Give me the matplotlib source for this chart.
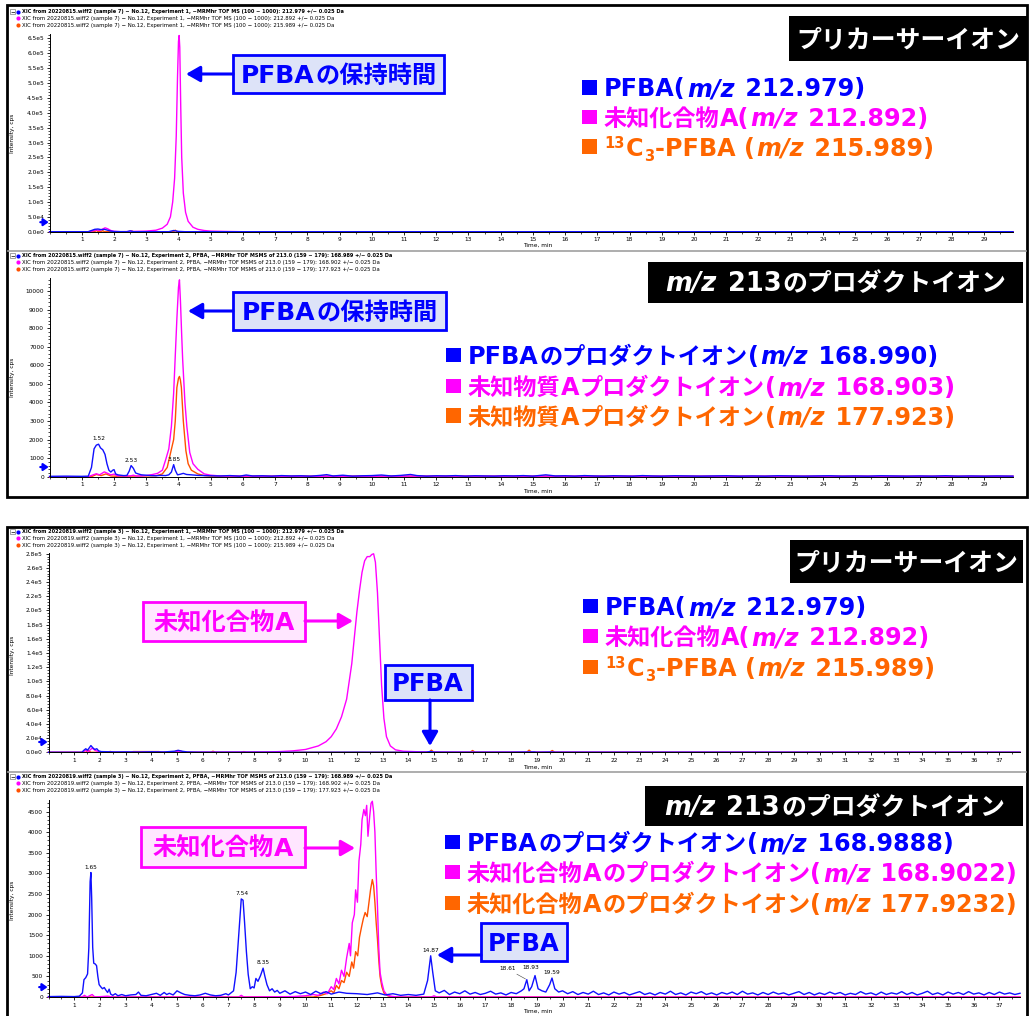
import matplotlib
matplotlib.use('Agg')
import matplotlib.pyplot as plt
from matplotlib.patches import Rectangle, FancyArrowPatch
from matplotlib.lines import Line2D
from matplotlib.ticker import FixedLocator, AutoMinorLocator, FuncFormatter
from matplotlib.transforms import blended_transform_factory
import numpy as np

FAM = ['DejaVu Sans', 'Noto Sans CJK JP']
plt.rcParams['font.family'] = FAM

W, H = 1030, 1016
fig = plt.figure(figsize=(W / 100, H / 100), dpi=100)
fig.patch.set_facecolor('white')
renderer = fig.canvas.get_renderer()

BLUE = '#0000FF'
MAGENTA = '#FF00FF'
ORANGE = '#FF6600'
TR_BLUE = '#1010FF'
TR_MAG = '#FF00FF'
TR_ORA = '#FF5000'

# ---------------- data: (time [min], intensity [cps]) ----------------
# sample 20220815, precursor ions
p1_blue = [(0, 0), (1.2, 0), (1.3, 4000), (1.4, 8000), (1.5, 9000), (1.6, 7000), (1.7, 8000),
           (1.8, 5000), (1.9, 2000), (2.0, 500), (2.4, 0), (2.5, 3000), (2.6, 0), (3.7, 0),
           (3.85, 4000), (4.0, 1000), (4.2, 0), (29.9, 0)]
p1_mag = [(0, 0), (1.2, 0), (1.35, 3000), (1.45, 6000), (1.55, 4000), (1.65, 9000), (1.72, 13000),
          (1.8, 10000), (1.9, 4000), (2.0, 1500), (2.2, 0), (3.0, 2000), (3.3, 5000), (3.5, 12000),
          (3.65, 25000), (3.75, 50000), (3.82, 100000), (3.88, 180000), (3.93, 320000),
          (3.97, 520000), (4.0, 640000), (4.02, 660000), (4.04, 620000), (4.07, 420000),
          (4.1, 250000), (4.15, 130000), (4.22, 65000), (4.3, 35000), (4.45, 15000), (4.6, 8000),
          (4.8, 4000), (5.0, 2000), (5.5, 800), (6.0, 0), (29.9, 0)]
p1_ora = [(0, 0), (1.4, 0), (1.45, 4500), (1.5, 0), (1.6, 0), (1.65, 3500), (1.7, 0), (2.5, 0),
          (2.55, 2500), (2.6, 0), (3.85, 0), (3.9, 5000), (3.95, 0), (29.9, 0)]

# sample 20220815, product ions of m/z 213
p2_blue = [(0, 20), (0.5, 30), (1.0, 20), (1.2, 30), (1.3, 500), (1.38, 1500), (1.45, 1700),
           (1.52, 1750), (1.58, 1550), (1.65, 1450), (1.72, 1200), (1.78, 700), (1.84, 350),
           (1.9, 250), (1.96, 350), (2.0, 380), (2.05, 150), (2.12, 100), (2.2, 80), (2.3, 60),
           (2.4, 70), (2.47, 300), (2.53, 600), (2.6, 450), (2.67, 200), (2.75, 150), (2.85, 100),
           (3.0, 80), (3.15, 60), (3.3, 50), (3.45, 70), (3.6, 60), (3.7, 100), (3.78, 250),
           (3.85, 650), (3.9, 350), (3.97, 100), (4.05, 130), (4.15, 180), (4.25, 120), (4.4, 100),
           (4.6, 70), (4.8, 60), (5.0, 50), (5.3, 40), (5.6, 60), (5.9, 30), (6.1, 90), (6.3, 40),
           (6.6, 50), (6.9, 30), (7.2, 60), (7.5, 40), (7.8, 50), (8.1, 30), (8.4, 70), (8.6, 110),
           (8.8, 40), (9.1, 80), (9.4, 30), (9.7, 50), (10.0, 60), (10.3, 90), (10.6, 40),
           (10.9, 70), (11.2, 120), (11.4, 60), (11.7, 30), (12.0, 50), (12.3, 40), (12.6, 60),
           (12.9, 30), (13.2, 50), (13.5, 40), (13.8, 30), (14.1, 50), (14.4, 40), (14.7, 60),
           (15.0, 30), (15.4, 100), (15.7, 40), (16.0, 50), (16.3, 30), (16.6, 60), (16.9, 40),
           (17.2, 30), (17.5, 50), (17.8, 40), (18.1, 30), (18.4, 60), (18.7, 40), (19.0, 30),
           (19.4, 50), (19.8, 40), (20.2, 30), (20.6, 40), (21.0, 50), (21.4, 30), (21.8, 40),
           (22.2, 30), (22.6, 50), (23.0, 40), (23.4, 30), (23.8, 40), (24.2, 50), (24.6, 30),
           (25.0, 40), (25.4, 30), (25.8, 50), (26.2, 40), (26.6, 30), (27.0, 40), (27.4, 30),
           (27.8, 50), (28.2, 30), (28.6, 40), (29.0, 30), (29.4, 40), (29.9, 30)]
p2_mag = [(0, 0), (1.2, 0), (1.35, 100), (1.45, 160), (1.55, 100), (1.7, 260), (1.8, 180),
          (1.9, 100), (2.0, 140), (2.1, 50), (2.5, 40), (2.6, 80), (2.7, 30), (3.0, 60), (3.2, 120),
          (3.35, 180), (3.5, 350), (3.6, 900), (3.7, 1500), (3.78, 2700), (3.85, 4500),
          (3.9, 6500), (3.95, 8500), (4.0, 10200), (4.03, 10600), (4.06, 9500), (4.1, 7600),
          (4.13, 6300), (4.2, 4000), (4.26, 2700), (4.35, 1300), (4.45, 700), (4.6, 400),
          (4.8, 150), (5.0, 80), (5.3, 40), (6.0, 30), (8.0, 20), (12.0, 30), (29.9, 20)]
p2_ora = [(0, 0), (1.3, 0), (1.45, 120), (1.6, 60), (1.75, 150), (1.9, 40), (2.1, 20), (3.3, 50),
          (3.5, 150), (3.65, 500), (3.77, 1400), (3.85, 2000), (3.9, 3000), (3.95, 4800),
          (4.0, 5300), (4.03, 5400), (4.06, 5200), (4.09, 4800), (4.15, 3000), (4.23, 1400),
          (4.3, 700), (4.4, 350), (4.6, 150), (4.8, 60), (5.0, 30), (29.9, 20)]
p2_peaks = [(1.52, 1750), (2.53, 600), (3.85, 650)]

# sample 20220819, precursor ions
p3_blue = [(0, 0), (1.3, 0), (1.38, 3000), (1.45, 5000), (1.52, 3000), (1.6, 7000), (1.65, 9500),
           (1.72, 6500), (1.8, 4000), (1.88, 5000), (1.95, 2000), (2.05, 1000), (2.3, 800),
           (2.6, 500), (3.0, 600), (3.5, 400), (4.0, 700), (4.5, 500), (4.9, 1500), (5.05, 2800),
           (5.2, 1500), (5.4, 500), (5.8, 200), (6.5, 100), (7.5, 100), (9.0, 50), (10.0, 100),
           (12.0, 200), (13.5, 100), (14.7, 200), (14.87, 1200), (15.0, 200), (16.0, 100),
           (18.0, 150), (18.9, 500), (19.0, 100), (19.6, 400), (19.7, 100), (25.0, 100),
           (37.8, 50)]
p3_mag = [(0, 0), (1.35, 0), (1.45, 3000), (1.55, 1000), (1.7, 6000), (1.8, 3000), (1.9, 1500),
          (2.0, 0), (4.9, 0), (5.05, 1500), (5.2, 0), (8.5, 500), (9.0, 1000), (9.5, 2000),
          (10.0, 4000), (10.5, 9000), (10.8, 15000), (11.0, 22000), (11.2, 33000), (11.4, 50000),
          (11.6, 75000), (11.8, 125000), (11.9, 162000), (12.0, 198000), (12.1, 228000),
          (12.2, 254000), (12.3, 270000), (12.4, 276000), (12.5, 276000), (12.58, 279000),
          (12.65, 280000), (12.72, 268000), (12.8, 225000), (12.88, 160000), (12.96, 95000),
          (13.05, 48000), (13.15, 22000), (13.3, 9000), (13.5, 3500), (13.8, 1500), (14.5, 600),
          (15.5, 200), (37.8, 0)]
p3_ora = [(0, 0), (1.45, 0), (1.55, 2500), (1.65, 0), (2.3, 0), (2.4, 1200), (2.5, 0), (3.2, 0),
          (3.3, 1000), (4.3, 1000), (4.4, 0), (4.9, 0), (5.0, 2500), (5.15, 1500), (5.3, 0),
          (6.3, 0), (6.4, 1500), (6.5, 0), (7.5, 0), (7.6, 1000), (7.7, 0), (14.8, 0),
          (14.9, 3000), (15.0, 0), (16.4, 0), (16.5, 2500), (16.6, 0), (18.6, 0), (18.7, 3000),
          (18.8, 0), (19.5, 0), (19.6, 2500), (19.7, 0), (37.8, 0)]

# sample 20220819, product ions of m/z 213
p4_blue = [(0, 10), (0.5, 15), (1.0, 10), (1.2, 20), (1.32, 100), (1.38, 420), (1.45, 470),
           (1.52, 560), (1.57, 1200), (1.62, 2800), (1.65, 3020), (1.68, 2400), (1.72, 1200),
           (1.76, 820), (1.82, 800), (1.87, 760), (1.92, 500), (1.97, 300), (2.03, 250),
           (2.1, 200), (2.17, 230), (2.24, 160), (2.3, 110), (2.36, 190), (2.42, 70), (2.5, 40),
           (2.6, 80), (2.7, 30), (2.85, 60), (3.0, 30), (3.2, 50), (3.4, 60), (3.5, 120), (3.6, 40),
           (3.8, 30), (4.0, 60), (4.2, 90), (4.35, 40), (4.5, 110), (4.6, 60), (4.7, 90),
           (4.85, 50), (5.0, 150), (5.15, 100), (5.3, 60), (5.5, 40), (5.7, 30), (5.9, 50),
           (6.1, 90), (6.3, 50), (6.5, 30), (6.7, 40), (6.9, 80), (7.0, 50), (7.1, 100), (7.2, 150),
           (7.3, 600), (7.4, 1500), (7.5, 2380), (7.57, 2350), (7.63, 1800), (7.7, 1100),
           (7.77, 550), (7.85, 200), (7.93, 250), (8.0, 220), (8.07, 450), (8.15, 380),
           (8.25, 520), (8.35, 700), (8.42, 500), (8.5, 300), (8.6, 150), (8.7, 200), (8.8, 120),
           (8.9, 160), (9.0, 90), (9.2, 150), (9.4, 70), (9.6, 130), (9.8, 80), (10.0, 120),
           (10.2, 60), (10.4, 140), (10.6, 80), (10.8, 130), (11.0, 70), (11.3, 120), (11.6, 90),
           (12.0, 80), (12.4, 60), (12.8, 100), (13.1, 50), (13.4, 80), (13.7, 40), (14.0, 60),
           (14.3, 40), (14.6, 70), (14.75, 400), (14.87, 1000), (14.95, 600), (15.05, 150),
           (15.2, 100), (15.4, 160), (15.6, 60), (15.8, 120), (16.0, 80), (16.2, 150), (16.4, 70),
           (16.6, 110), (16.8, 60), (17.0, 90), (17.2, 140), (17.4, 70), (17.6, 100), (17.8, 50),
           (18.0, 110), (18.2, 80), (18.4, 150), (18.5, 200), (18.61, 420), (18.7, 150),
           (18.8, 250), (18.93, 520), (19.05, 200), (19.2, 150), (19.35, 120), (19.5, 300),
           (19.59, 460), (19.7, 200), (19.85, 120), (20.0, 150), (20.2, 80), (20.4, 130),
           (20.6, 60), (20.8, 110), (21.0, 70), (21.2, 140), (21.4, 60), (21.6, 100), (21.8, 50),
           (22.0, 120), (22.2, 70), (22.4, 110), (22.6, 50), (22.8, 90), (23.0, 130), (23.2, 60),
           (23.4, 100), (23.6, 50), (23.8, 110), (24.0, 70), (24.2, 140), (24.4, 60), (24.6, 100),
           (24.8, 50), (25.0, 120), (25.2, 80), (25.4, 130), (25.6, 60), (25.8, 100), (26.0, 50),
           (26.2, 110), (26.4, 70), (26.6, 120), (26.8, 60), (27.0, 140), (27.2, 70), (27.4, 100),
           (27.6, 50), (27.8, 110), (28.0, 60), (28.2, 120), (28.4, 70), (28.6, 100), (28.8, 50),
           (29.0, 90), (29.2, 130), (29.4, 60), (29.6, 110), (29.8, 50), (30.0, 100), (30.2, 60),
           (30.4, 120), (30.6, 70), (30.8, 110), (31.0, 50), (31.2, 90), (31.4, 60), (31.6, 130),
           (31.8, 70), (32.0, 100), (32.2, 50), (32.4, 120), (32.6, 60), (32.8, 100), (33.0, 70),
           (33.2, 130), (33.4, 60), (33.6, 110), (33.8, 50), (34.0, 90), (34.2, 140), (34.4, 60),
           (34.6, 100), (34.8, 50), (35.0, 120), (35.2, 70), (35.4, 110), (35.6, 60), (35.8, 130),
           (36.0, 70), (36.2, 100), (36.4, 50), (36.6, 110), (36.8, 60), (37.0, 120), (37.2, 70),
           (37.4, 100), (37.6, 60), (37.8, 90)]
p4_mag = [(0, 0), (1.3, 0), (1.4, 40), (1.5, 0), (1.7, 60), (1.8, 0), (2.3, 20), (2.5, 0),
          (7.4, 0), (7.5, 40), (7.6, 0), (9.5, 10), (10.0, 30), (10.3, 60), (10.5, 40), (10.7, 120),
          (10.85, 80), (11.0, 250), (11.1, 180), (11.2, 450), (11.3, 320), (11.4, 650), (11.5, 500),
          (11.6, 950), (11.7, 1300), (11.75, 1000), (11.82, 1800), (11.9, 2000), (11.95, 2600),
          (12.02, 2300), (12.08, 3300), (12.15, 3700), (12.2, 4300), (12.27, 4550), (12.33, 4400),
          (12.38, 4650), (12.43, 3900), (12.5, 4400), (12.55, 4700), (12.6, 4750), (12.65, 4500),
          (12.7, 4000), (12.75, 3000), (12.8, 2200), (12.85, 1200), (12.9, 600), (12.97, 350),
          (13.05, 150), (13.15, 60), (13.3, 20), (13.6, 0), (14.9, 0), (15.0, 30), (15.1, 0),
          (37.8, 0)]
p4_ora = [(0, 0), (10.3, 0), (10.6, 40), (10.8, 80), (11.0, 150), (11.1, 100), (11.2, 280),
          (11.3, 200), (11.4, 400), (11.5, 350), (11.6, 600), (11.7, 500), (11.8, 850),
          (11.87, 700), (11.95, 1100), (12.03, 1000), (12.1, 1450), (12.18, 1700), (12.25, 1900),
          (12.32, 2050), (12.4, 1950), (12.47, 2300), (12.53, 2600), (12.6, 2850), (12.65, 2700),
          (12.7, 2300), (12.75, 1800), (12.8, 1400), (12.85, 900), (12.9, 500), (12.97, 250),
          (13.05, 100), (13.2, 30), (13.4, 0), (37.8, 0)]
p4_peaks = [(1.65, 3020), (7.54, 2380), (8.35, 700), (14.87, 1000), (18.61, 420),
            (18.93, 520), (19.59, 460)]

# ---------------- text content ----------------
hdr_p1 = ['XIC from 20220815.wiff2 (sample 7) − No.12, Experiment 1, −MRMhr TOF MS (100 − 1000): 212.979 +/− 0.025 Da',
          'XIC from 20220815.wiff2 (sample 7) − No.12, Experiment 1, −MRMhr TOF MS (100 − 1000): 212.892 +/− 0.025 Da',
          'XIC from 20220815.wiff2 (sample 7) − No.12, Experiment 1, −MRMhr TOF MS (100 − 1000): 215.989 +/− 0.025 Da']
hdr_p2 = ['XIC from 20220815.wiff2 (sample 7) − No.12, Experiment 2, PFBA, −MRMhr TOF MSMS of 213.0 (159 − 179): 168.989 +/− 0.025 Da',
          'XIC from 20220815.wiff2 (sample 7) − No.12, Experiment 2, PFBA, −MRMhr TOF MSMS of 213.0 (159 − 179): 168.902 +/− 0.025 Da',
          'XIC from 20220815.wiff2 (sample 7) − No.12, Experiment 2, PFBA, −MRMhr TOF MSMS of 213.0 (159 − 179): 177.923 +/− 0.025 Da']
hdr_p3 = ['XIC from 20220819.wiff2 (sample 3) − No.12, Experiment 1, −MRMhr TOF MS (100 − 1000): 212.979 +/− 0.025 Da',
          'XIC from 20220819.wiff2 (sample 3) − No.12, Experiment 1, −MRMhr TOF MS (100 − 1000): 212.892 +/− 0.025 Da',
          'XIC from 20220819.wiff2 (sample 3) − No.12, Experiment 1, −MRMhr TOF MS (100 − 1000): 215.989 +/− 0.025 Da']
hdr_p4 = ['XIC from 20220819.wiff2 (sample 3) − No.12, Experiment 2, PFBA, −MRMhr TOF MSMS of 213.0 (159 − 179): 168.989 +/− 0.025 Da',
          'XIC from 20220819.wiff2 (sample 3) − No.12, Experiment 2, PFBA, −MRMhr TOF MSMS of 213.0 (159 − 179): 168.902 +/− 0.025 Da',
          'XIC from 20220819.wiff2 (sample 3) − No.12, Experiment 2, PFBA, −MRMhr TOF MSMS of 213.0 (159 − 179): 177.923 +/− 0.025 Da']

leg_precursor = [
    (BLUE, [('PFBA(', 'b'), ('m/z', 'i'), (' 212.979)', 'b')]),
    (MAGENTA, [('未知化合物A(', 'b'), ('m/z', 'i'), (' 212.892)', 'b')]),
    (ORANGE, [('13', 'sup'), ('C', 'b'), ('3', 'sub'), ('-PFBA (', 'b'), ('m/z', 'i'), (' 215.989)', 'b')]),
]
leg_product_a = [
    (BLUE, [('PFBAのプロダクトイオン(', 'b'), ('m/z', 'i'), (' 168.990)', 'b')]),
    (MAGENTA, [('未知物質Aプロダクトイオン(', 'b'), ('m/z', 'i'), (' 168.903)', 'b')]),
    (ORANGE, [('未知物質Aプロダクトイオン(', 'b'), ('m/z', 'i'), (' 177.923)', 'b')]),
]
leg_product_b = [
    (BLUE, [('PFBAのプロダクトイオン(', 'b'), ('m/z', 'i'), (' 168.9888)', 'b')]),
    (MAGENTA, [('未知化合物Aのプロダクトイオン(', 'b'), ('m/z', 'i'), (' 168.9022)', 'b')]),
    (ORANGE, [('未知化合物Aのプロダクトイオン(', 'b'), ('m/z', 'i'), (' 177.9232)', 'b')]),
]
title_precursor = [('プリカーサーイオン', 'b')]
title_product = [('m/z', 'i'), (' 213のプロダクトイオン', 'b')]

CJK_SCALE = 0.97   # kana/kanji are set a touch smaller than the Latin text


# ---------------- helpers (pixel coordinates, origin at top-left) ----------------
def fx(x):
    return x / W


def fy(y):
    return 1 - y / H


def px_rect(x0, y0, x1, y1, **kw):
    r = Rectangle((fx(x0), fy(y1)), (x1 - x0) / W, (y1 - y0) / H,
                  transform=fig.transFigure, **kw)
    fig.add_artist(r)
    return r


def px_arrow(x0, y0, x1, y1, color):
    a = FancyArrowPatch((fx(x0), fy(y0)), (fx(x1), fy(y1)), transform=fig.transFigure,
                        arrowstyle='-|>,head_length=0.7,head_width=0.4', mutation_scale=12,
                        lw=2.2, color=color, shrinkA=0, shrinkB=0)
    fig.add_artist(a)


def split_runs(txt):
    runs = []
    for ch in txt:
        cjk = ord(ch) >= 0x3000
        if runs and runs[-1][1] == cjk:
            runs[-1][0] += ch
        else:
            runs.append([ch, cjk])
    return runs


def seg_text(x, base, segs, size, color, center=None):
    em = size * 100 / 72
    arts = []
    cur = x
    for txt, st in segs:
        sz, dy, style, pre, post = size, 0.0, 'normal', 0.0, 0.0
        if st == 'i':
            style, pre, post = 'italic', 0.03 * em, 0.04 * em
        elif st == 'sup':
            sz, dy = size * 0.62, -0.33 * em
        elif st == 'sub':
            sz, dy = size * 0.62, 0.22 * em
        cur += pre
        for run, cjk in split_runs(txt):
            t = fig.text(fx(cur), fy(base + dy), run,
                         fontsize=sz * CJK_SCALE if cjk else sz,
                         family='Noto Sans CJK JP' if cjk else 'DejaVu Sans',
                         color=color, fontweight='bold', fontstyle=style,
                         ha='left', va='baseline')
            cur += t.get_window_extent(renderer).width + (1.0 if not cjk else 0.0)
            arts.append(t)
        cur += post
    total = cur - x
    if center is not None:
        shift = (center - total / 2 - x) / W
        for t in arts:
            px, py = t.get_position()
            t.set_position((px + shift, py))
    return total


def legend_block(x_sq, bases, entries, size):
    for base, (color, segs) in zip(bases, entries):
        px_rect(x_sq, base - 16.5, x_sq + 14.5, base - 2, fc=color, ec='none')
        seg_text(x_sq + 22, base, segs, size, color)


def title_box(x0, y0, x1, y1, segs, size):
    px_rect(x0, y0, x1, y1, fc='black', ec='none')
    em = size * 100 / 72
    seg_text(0, (y0 + y1) / 2 + 0.35 * em, segs, size, 'white', center=(x0 + x1) / 2)


def note_box(x0, y0, x1, y1, label, color, fill, size):
    px_rect(x0, y0, x1, y1, fc=fill, ec=color, lw=2)
    em = size * 100 / 72
    seg_text(0, (y0 + y1) / 2 + 0.36 * em, [(label, 'b')], size, color, center=(x0 + x1) / 2)


def header(y1, lines):
    px_rect(9.5, y1 - 3, 15, y1 + 2.5, fill=False, ec='#7f7f7f', lw=0.5)
    fig.text(fx(12.3), fy(y1), '−', fontsize=4, ha='center', va='center')
    for i, (line, c) in enumerate(zip(lines, [BLUE, MAGENTA, TR_ORA])):
        yy = y1 + i * 6.7
        fig.add_artist(Line2D([fx(18.5)], [fy(yy)], marker='o', ms=3, mew=0, color=c,
                              transform=fig.transFigure))
        fig.text(fx(22.5), fy(yy), line, fontsize=3.6 if i == 0 else 3.9,
                 fontweight='bold' if i == 0 else 'normal',
                 ha='left', va='center', family='DejaVu Sans')


def sci(v, _):
    if v == 0:
        return '0.0e0'
    e = int(np.floor(np.log10(v) + 1e-9))
    return f'{v / 10 ** e:.1f}e{e}'


def plain(v, _):
    return f'{int(round(v))}'


def make_axes(left, top, right, bottom, xmax, ymax, yticks, yfmt, ylab_y, xlab_y):
    ax = fig.add_axes([fx(left), fy(bottom), (right - left) / W, (bottom - top) / H])
    ax.set_xlim(0, xmax)
    ax.set_ylim(0, ymax)
    ax.patch.set_alpha(0)
    for s in ('top', 'right'):
        ax.spines[s].set_visible(False)
    for s in ('left', 'bottom'):
        ax.spines[s].set_linewidth(0.7)
    ax.xaxis.set_major_locator(FixedLocator(list(range(1, int(xmax) + 1))))
    ax.xaxis.set_minor_locator(AutoMinorLocator(2))
    ax.yaxis.set_major_locator(FixedLocator(yticks))
    ax.yaxis.set_major_formatter(FuncFormatter(yfmt))
    ax.yaxis.set_minor_locator(AutoMinorLocator(5))
    ax.tick_params(which='major', labelsize=4.2, length=2.5, width=0.6, pad=1.5)
    ax.tick_params(which='minor', length=1.2, width=0.5)
    fig.text(fx(12.5), fy(ylab_y), 'Intensity, cps', rotation=90, fontsize=4.2,
             ha='center', va='center', family='DejaVu Sans')
    fig.text(fx(523), fy(xlab_y), 'Time, min', fontsize=4.2, ha='left', va='center',
             family='DejaVu Sans')
    return ax


def traces(ax, series):
    for data, color in series:
        t, v = zip(*data)
        ax.plot(t, v, color=color, lw=1.0, clip_on=False, solid_joinstyle='round')


def threshold_marker(ax, value):
    trans = blended_transform_factory(ax.transAxes, ax.transData)
    ax.annotate('', xy=(-0.001, value), xycoords=trans, xytext=(-6, 0),
                textcoords='offset points', annotation_clip=False,
                arrowprops=dict(arrowstyle='-|>,head_length=0.5,head_width=0.35',
                                color=BLUE, lw=1.6, mutation_scale=6, shrinkA=0, shrinkB=0))


def peak_labels(ax, peaks, offsets=None):
    offsets = offsets or {}
    for t, v in peaks:
        dx, dy, leader = offsets.get(t, (0, 2, False))
        kw = dict(xy=(t, v), xytext=(dx, dy), textcoords='offset points', ha='center',
                  va='bottom', fontsize=4.2, family='DejaVu Sans')
        if leader:
            kw['arrowprops'] = dict(arrowstyle='-', lw=0.4, color='#404040', shrinkA=0, shrinkB=1)
        ax.annotate(f'{t:.2f}', **kw)


# ---------------- frames ----------------
px_rect(7, 5, 1027, 497, fill=False, ec='black', lw=2)
fig.add_artist(Line2D([fx(8), fx(1026)], [fy(250.5), fy(250.5)], color='#a0a0a0', lw=1.2,
                      transform=fig.transFigure))
px_rect(7, 527, 1027, 1020, fill=False, ec='black', lw=2)
fig.add_artist(Line2D([fx(8), fx(1026)], [fy(771.5), fy(771.5)], color='#a0a0a0', lw=1.2,
                      transform=fig.transFigure))

# ---------------- panel 1 ----------------
header(11.7, hdr_p1)
ax1 = make_axes(49.6, 34, 1013, 231.7, 29.9, 6.65e5, np.arange(0, 6.51e5, 5e4), sci, 133, 245)
traces(ax1, [(p1_ora, TR_ORA), (p1_mag, TR_MAG), (p1_blue, TR_BLUE)])
threshold_marker(ax1, 3.2e4)

# ---------------- panel 2 ----------------
header(255.7, hdr_p2)
ax2 = make_axes(49.6, 278, 1013, 476.7, 29.9, 10700, list(range(0, 10001, 1000)), plain, 377, 491)
traces(ax2, [(p2_ora, TR_ORA), (p2_mag, TR_MAG), (p2_blue, TR_BLUE)])
threshold_marker(ax2, 520)
peak_labels(ax2, p2_peaks)

# ---------------- panel 3 ----------------
header(531.7, hdr_p3)
ax3 = make_axes(48.5, 552.7, 1020, 752.3, 37.8, 2.815e5, np.arange(0, 2.81e5, 2e4), sci, 655, 767)
traces(ax3, [(p3_ora, TR_ORA), (p3_mag, TR_MAG), (p3_blue, TR_BLUE)])
threshold_marker(ax3, 1.45e4)

# ---------------- panel 4 ----------------
header(776.7, hdr_p4)
ax4 = make_axes(48.5, 800, 1020, 997, 37.8, 4780, list(range(0, 4501, 500)), plain, 900, 1011)
traces(ax4, [(p4_ora, TR_ORA), (p4_mag, TR_MAG), (p4_blue, TR_BLUE)])
threshold_marker(ax4, 240)
peak_labels(ax4, p4_peaks, {18.61: (-14, 6, True), 18.93: (-3, 4, False)})

# ---------------- titles, legends and notes ----------------
LEG = 17.2
title_box(789, 16, 1027, 61, title_precursor, 18.5)
legend_block(582, [96.5, 126, 155.5], leg_precursor, LEG)
note_box(233, 55, 444, 93, 'PFBAの保持時間', BLUE, '#DDE3F8', 18)
px_arrow(233, 74, 186, 74, BLUE)

title_box(648, 262, 1023, 303, title_product, 18.5)
legend_block(446, [364, 395, 425], leg_product_a, LEG)
note_box(233, 292, 446, 330, 'PFBAの保持時間', BLUE, '#DDE3F8', 18)
px_arrow(233, 311, 188, 311, BLUE)

title_box(790, 540, 1023, 583, title_precursor, 18.5)
legend_block(583, [615, 645, 676], leg_precursor, LEG)
note_box(143, 602, 305, 641, '未知化合物A', MAGENTA, '#FFE6FF', 18)
px_arrow(305, 621, 353, 621, MAGENTA)
note_box(385, 665, 472, 700, 'PFBA', BLUE, '#DDE3F8', 17.5)
px_arrow(430, 700, 430, 746, BLUE)

title_box(645, 786, 1023, 826, title_product, 18.5)
legend_block(445, [851, 881, 912], leg_product_b, LEG)
note_box(141, 827, 305, 867, '未知化合物A', MAGENTA, '#FFE6FF', 18)
px_arrow(305, 848, 355, 848, MAGENTA)
note_box(481, 923, 567, 961, 'PFBA', BLUE, '#DDE3F8', 17.5)
px_arrow(481, 955, 437, 955, BLUE)

fig.savefig('out.png', dpi=100, facecolor='white')
